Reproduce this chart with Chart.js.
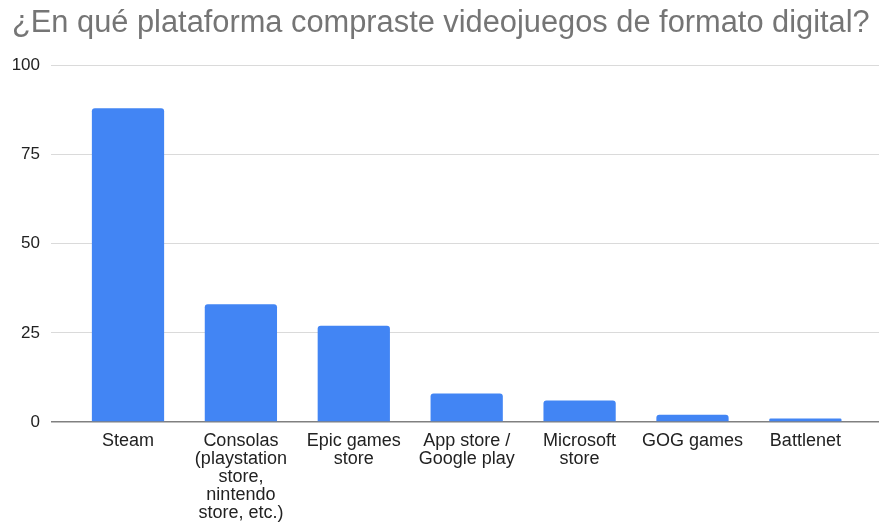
<!DOCTYPE html>
<html>
<head>
<meta charset="utf-8">
<title>Plataformas de compra digital</title>
<script src="https://cdn.jsdelivr.net/npm/chart.js@4.4.0/dist/chart.umd.min.js"></script>
<style>
  html, body { margin: 0; padding: 0; background: #fff; }
  #wrap { width: 879px; height: 527px; }
</style>
</head>
<body>
<div id="wrap"><canvas id="bar-chart"></canvas></div>
<script>
// datos
var plataformas = [
    ['Steam'],
    ['Consolas', '(playstation', 'store,', 'nintendo', 'store, etc.)'],
    ['Epic games', 'store'],
    ['App store /', 'Google play'],
    ['Microsoft', 'store'],
    ['GOG games'],
    ['Battlenet']
];
var respuestas = [88, 33, 27, 8, 6, 2, 1];
var marcasY = [0, 25, 50, 75, 100];

var fuente = "'Liberation Sans', Arial, sans-serif";

var puntos = respuestas.map(function (v, i) { return { x: i, y: v }; });

var ctx = document.getElementById('bar-chart').getContext('2d');
var miChart = new Chart(ctx, {
    type: 'bar',
    data: {
        datasets: [{
            data: puntos,
            backgroundColor: '#4285F4',
            borderRadius: { topLeft: 3, topRight: 3 },
            borderSkipped: 'bottom',
            barPercentage: 0.64,
            categoryPercentage: 1
        }]
    },
    options: {
        responsive: true,
        maintainAspectRatio: false,
        devicePixelRatio: 1,
        animation: false,
        events: [],
        layout: { padding: { left: 12, right: 0, top: 0, bottom: 0 } },
        plugins: {
            legend: { display: false },
            tooltip: { enabled: false },
            title: {
                display: true,
                text: '¿En qué plataforma compraste videojuegos de formato digital?',
                align: 'start',
                color: '#757575',
                font: { family: fuente, size: 30.8, weight: 'normal' },
                padding: { top: 5, bottom: 23.5 }
            }
        },
        scales: {
            x: {
                type: 'linear',
                offset: false,
                min: -0.682,
                max: 6.652,
                grid: { display: false },
                border: { display: false },
                afterFit: function (scale) { scale.height = 105; },
                afterBuildTicks: function (scale) {
                    scale.ticks = plataformas.map(function (p, i) { return { value: i }; });
                },
                ticks: {
                    autoSkip: false,
                    maxRotation: 0,
                    minRotation: 0,
                    padding: 2,
                    color: '#222',
                    font: { family: fuente, size: 18, lineHeight: '18px' },
                    callback: function (value) { return plataformas[value]; }
                }
            },
            y: {
                min: 0,
                max: 100,
                afterFit: function (scale) { scale.width = 39; },
                afterBuildTicks: function (scale) {
                    scale.ticks = marcasY.map(function (v) { return { value: v }; });
                },
                border: { display: false },
                grid: {
                    drawTicks: false,
                    color: function (c) { return c.tick.value === 0 ? '#808080' : '#dadada'; },
                    lineWidth: function (c) { return c.tick.value === 0 ? 1.5 : 1; }
                },
                ticks: {
                    padding: 11,
                    color: '#222',
                    font: { family: fuente, size: 17 }
                }
            }
        }
    }
});
</script>
</body>
</html>
